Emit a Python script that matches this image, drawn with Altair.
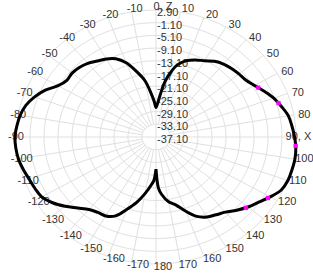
import altair as alt
import pandas as pd
import numpy as np

# ---- data ----
angles = [-180, -177.5, -175, -170, -165, -160, -155, -150, -145, -140, -135, -130,
          -125, -120, -115, -110, -105, -100, -95, -90, -85, -80, -75, -70, -65,
          -60, -55, -50, -45, -40, -35, -30, -25, -20, -15, -10, -5, -2.5, 0,
          2.5, 5, 7.5, 10, 15, 20, 25, 30, 35, 40, 45, 50, 55, 60, 65, 70, 75,
          80, 85, 90, 95, 100, 105, 110, 115, 120, 125, 130, 135, 140, 145, 150,
          155, 160, 165, 170, 175, 177.5, 180]
gain_db = [-27.0, -23.5, -22.0, -19.0, -15.8, -12.9, -9.7, -8.4, -8.1, -7.3, -5.5, -3.2,
           -1.0, 0.6, 1.1, 1.5, 2.2, 2.8, 3.1, 3.2, 2.8, 2.3, 1.4, -0.2, -2.2,
           -4.8, -6.0, -5.8, -6.1, -6.8, -7.9, -8.7, -9.9, -12.2, -15.8, -19.2, -24.0, -26.0, -27.8,
           -26.5, -24.0, -20.5, -17.8, -13.6, -11.5, -10.3, -9.4, -8.0, -7.1, -6.6, -6.2, -5.8, -4.6, -3.0, -1.3, 0.0,
           1.3, 1.9, 2.5, 3.0, 3.2, 3.1, 3.0, 2.4, 0.6, -1.3, -2.8, -4.5, -6.2, -7.2, -8.0,
           -9.5, -12.2, -14.9, -16.4, -19.0, -21.0, -27.0]

marker_angles = [62, 73, 94, 121, 131]
marker_db = [-4.0, -0.5, 2.9, 0.2, -3.1]

ring_db = [2.9, -1.1, -5.1, -9.1, -13.1, -17.1, -21.1, -25.1, -29.1, -33.1, -37.1]
ring_labels = ["2.90", "-1.10", "-5.10", "-9.10", "-13.10", "-17.10", "-21.10",
               "-25.10", "-29.10", "-33.10", "-37.10"]

tick_angles = [0, 10, 20, 30, 40, 50, 60, 70, 80, 90, 100, 110, 120, 130, 140, 150,
               160, 170, 180, -170, -160, -150, -140, -130, -120, -110, -100, -90,
               -80, -70, -60, -50, -40, -30, -20, -10]
tick_labels = ["0, Z", "10", "20", "30", "40", "50", "60", "70", "80", "90, X", "100",
               "110", "120", "130", "140", "150", "160", "170", "180", "-170", "-160",
               "-150", "-140", "-130", "-120", "-110", "-100", "-90", "-80", "-70",
               "-60", "-50", "-40", "-30", "-20", "-10"]

R_MIN = -37.1
R_MAX = 2.9
R_INNER = 4.0   # first ring (spokes start here)
LABEL_RX = 41.0
LABEL_RY = 40.8

W, H = 313, 278
xs = alt.Scale(domain=[-44.571, 44.857], nice=False, zero=False)
ys = alt.Scale(domain=[-44.41, 43.15], nice=False, zero=False)
X = lambda f: alt.X(f, type="quantitative", scale=xs, axis=None)
Y = lambda f: alt.Y(f, type="quantitative", scale=ys, axis=None)

# ---- grid rings ----
ring_rows = []
for rv in ring_db[:-1]:
    for t in range(0, 361, 3):
        ring_rows.append({"ring": rv, "t": t})
rings = alt.Chart(pd.DataFrame(ring_rows)).transform_calculate(
    r=f"datum.ring - ({R_MIN})",
).transform_calculate(
    x="datum.r * sin(datum.t * PI / 180)",
    y="datum.r * cos(datum.t * PI / 180)",
).mark_line(color="#e0e0e0", strokeWidth=1).encode(
    x=X("x"), y=Y("y"), detail="ring:N", order="t:Q"
)

# ---- spokes ----
spoke_df = pd.DataFrame({"a": list(range(0, 360, 10))})
spokes = alt.Chart(spoke_df).transform_calculate(
    r0=f"datum.a % 90 == 0 ? 0 : {R_INNER}",
).transform_calculate(
    x1="datum.r0 * sin(datum.a * PI / 180)",
    y1="datum.r0 * cos(datum.a * PI / 180)",
    x2=f"{R_MAX - R_MIN} * sin(datum.a * PI / 180)",
    y2=f"{R_MAX - R_MIN} * cos(datum.a * PI / 180)",
).mark_rule(color="#e0e0e0", strokeWidth=1).encode(
    x=X("x1"), y=Y("y1"), x2="x2:Q", y2="y2:Q"
)

# ---- radial labels ----
rl_df = pd.DataFrame({"db": ring_db, "label": ring_labels})
ring_text = alt.Chart(rl_df).transform_calculate(
    x="0", y=f"datum.db - ({R_MIN})"
).mark_text(align="left", baseline="middle", dx=1, dy=3, fontSize=11,
            font="Liberation Sans", color="#333333").encode(
    x=X("x"), y=Y("y"), text="label:N"
)

# ---- angle labels ----
al_df = pd.DataFrame({"a": tick_angles, "label": tick_labels})
angle_text = alt.Chart(al_df).transform_calculate(
    off="datum.label == '90, X' ? -2.3 : ((datum.a < 0 && datum.a > -95) ? -1.0 : 0)",
).transform_calculate(
    x=f"{LABEL_RX} * sin(datum.a * PI / 180) + datum.off",
    y=f"{LABEL_RY} * cos(datum.a * PI / 180)",
).mark_text(align="center", baseline="middle", dx=7, dy=0, fontSize=11,
            font="Liberation Sans", color="#333333").encode(
    x=X("x"), y=Y("y"), text="label:N"
)

# ---- pattern curve ----
cdf = pd.DataFrame({"angle": angles, "db": gain_db, "order": list(range(len(angles)))})
curve = alt.Chart(cdf).transform_calculate(
    r=f"datum.db - ({R_MIN})"
).transform_calculate(
    x="datum.r * sin(datum.angle * PI / 180)",
    y="datum.r * cos(datum.angle * PI / 180)",
).mark_line(color="black", strokeWidth=3, interpolate="catmull-rom").encode(
    x=X("x"), y=Y("y"), order="order:Q"
)

mdf = pd.DataFrame({"angle": marker_angles, "db": marker_db})
markers = alt.Chart(mdf).transform_calculate(
    r=f"datum.db - ({R_MIN})"
).transform_calculate(
    x="datum.r * sin(datum.angle * PI / 180)",
    y="datum.r * cos(datum.angle * PI / 180)",
).mark_square(color="#ff00ff", size=18, opacity=1).encode(
    x=X("x"), y=Y("y")
)

chart = alt.layer(rings, spokes, ring_text, angle_text, curve, markers).properties(
    width=W, height=H, padding=0, autosize=alt.AutoSizeParams(type="none"),
    background="white"
).configure_view(stroke=None)

chart.save("out.html", embed_options={"renderer": "svg", "actions": False})
